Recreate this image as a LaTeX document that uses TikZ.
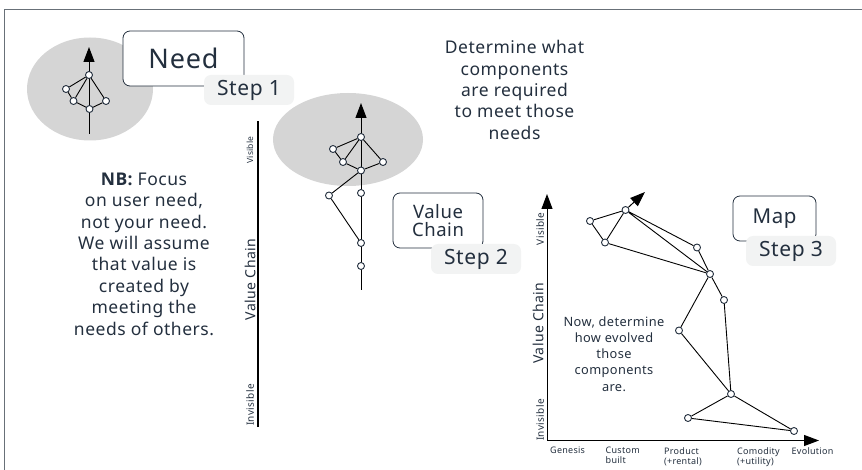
\documentclass[tikz,border=0pt]{standalone}
\usepackage{fontspec}
\setmainfont[LetterSpace=3]{Noto Sans}
\newfontfamily\nbfont[LetterSpace=2]{Open Sans}
\usetikzlibrary{arrows.meta}
\definecolor{ink}{HTML}{232F3E}
\definecolor{blob}{HTML}{D5D5D5}
\definecolor{chip}{HTML}{F2F3F3}
\definecolor{frame}{HTML}{687078}
\tikzset{
  dot/.style={circle,draw=ink,fill=white,line width=0.9pt,minimum size=7pt,inner sep=0pt},
  edge/.style={draw=black,line width=0.9pt},
  axis/.style={draw=black,line width=1pt,-{Triangle[length=15pt,width=11pt]}},
  blobby/.style={fill=blob,draw=none},
  titlebox/.style={draw=ink,fill=white,rounded corners=7pt,line width=0.8pt,text=ink,align=center,inner sep=0pt},
  stepchip/.style={fill=chip,rounded corners=7pt,text=ink,inner sep=0pt,font=\fontsize{21}{22}\selectfont},
  para/.style={text=ink,align=center,inner sep=0pt,font=\fontsize{17.5}{21.4}\selectfont},
  small/.style={text=ink,align=center,inner sep=0pt,font=\fontsize{12.8}{16.2}\selectfont},
  vlabel/.style={text=ink,rotate=90,inner sep=0pt,font=\fontsize{10}{12}\selectfont},
  vlabelbig/.style={text=ink,rotate=90,inner sep=0pt,font=\fontsize{14}{15}\selectfont},
  tick/.style={text=ink,align=left,anchor=north west,inner sep=0pt,font=\fontsize{9}{10}\selectfont},
}
\begin{document}
\begin{tikzpicture}[x=1pt,y=-1pt]
\useasboundingbox (0,0) rectangle (862,470);
% frame
\coordinate (fa) at (4.5,470); \coordinate (fb) at (4.5,9.5); \coordinate (fc) at (862,9.5);
\draw[frame,line width=1pt] (fa) -- (fb) -- (fc);

% Step 1
\fill[blobby] (90,89) ellipse [x radius=63,y radius=51.5];
\coordinate (a0) at (89,134); \coordinate (a1) at (89,47);
\draw[axis] (a0) -- (a1);
\node[dot] (n1) at (89,75) {};
\node[dot] (n2) at (66,89) {};
\node[dot] (n3) at (73.5,101) {};
\node[dot] (n4) at (89.5,109) {};
\node[dot] (n5) at (106,101) {};
\draw[edge] (n1)--(n2) (n2)--(n3) (n3)--(n1) (n3)--(n4) (n4)--(n5) (n5)--(n1);
\node[titlebox,minimum width=121pt,minimum height=55pt,font=\fontsize{27}{28}\selectfont] (need) at (183.5,58.5) {Need};
\node[stepchip,minimum width=90pt,minimum height=30pt] (s1) at (249,90) {Step 1};

% texts
\node[para] (det) at (514.5,90) {Determine what\\components\\are required\\to meet those\\needs};
\node[para] (nb) at (144,254) {{\nbfont\bfseries NB:} Focus\\on user need,\\not your need.\\We will assume\\that value is\\created by\\meeting the\\needs of others.};

% Step 2
\coordinate (v0) at (258,427); \coordinate (v1) at (258,121);
\draw[black,line width=1.5pt] (v0) -- (v1);
\node[vlabel,font=\fontsize{8.5}{10}\selectfont] (vis1) at (250,150) {Visible};
\node[vlabelbig] (vc1) at (250,279.5) {Value Chain};
\node[vlabel] (inv1) at (250,405) {Invisible};
\fill[blobby] (348,139.5) ellipse [x radius=75,y radius=46.5];
\coordinate (b0) at (361,290); \coordinate (b1) at (361,103);
\draw[axis] (b0) -- (b1);
\node[dot] (m1) at (361,137) {};
\node[dot] (m2) at (333,149) {};
\node[dot] (m3) at (343,162) {};
\node[dot] (m4) at (361,170.5) {};
\node[dot] (m5) at (383,162) {};
\node[dot] (m6) at (329,195.5) {};
\node[dot] (m7) at (361,193) {};
\node[dot] (m8) at (361,243) {};
\node[dot] (m9) at (361,266) {};
\draw[edge] (m1)--(m2) (m2)--(m3) (m3)--(m1) (m3)--(m4) (m4)--(m5) (m5)--(m1) (m4)--(m6) (m6)--(m8);
\node[titlebox,minimum width=90pt,minimum height=55pt,font=\fontsize{18.5}{18}\selectfont] (vc) at (438,220.5) {Value\\Chain};
\node[stepchip,minimum width=90pt,minimum height=30pt] (s2) at (476,259) {Step 2};

% Step 3
\coordinate (o) at (547,440.5); \coordinate (yt) at (547,194); \coordinate (xt) at (819,440.5);
\draw[axis] (o) -- (yt);
\draw[axis] (o) -- (xt);
\node[vlabel] (vis3) at (540,229) {Visible};
\node[vlabelbig] (vc3) at (538,323) {Value Chain};
\node[vlabel] (inv3) at (540,420) {Invisible};
\node[dot] (p1) at (625.5,210) {};
\node[dot] (p2) at (590,221) {};
\node[dot] (p3) at (605,242.5) {};
\node[dot] (p4) at (697,247.5) {};
\node[dot] (p5) at (710,274) {};
\node[dot] (p6) at (724,300) {};
\node[dot] (p7) at (679,330.5) {};
\node[dot] (p8) at (731,394) {};
\node[dot] (p9) at (688,418) {};
\node[dot] (p10) at (794,431) {};
\coordinate (pt) at (645,192);
\draw[draw=black,line width=1pt,-{Triangle[length=15pt,width=11pt]}] (p1) -- (pt);
\draw[edge] (p1)--(p2) (p2)--(p3) (p3)--(p1) (p1)--(p4) (p4)--(p5) (p1)--(p5) (p3)--(p5) (p5)--(p6) (p5)--(p7) (p6)--(p8) (p7)--(p8) (p8)--(p9) (p9)--(p10) (p10)--(p8);
\node[titlebox,minimum width=83pt,minimum height=45pt,font=\fontsize{20.5}{21}\selectfont] (map) at (774.5,218.5) {Map};
\node[stepchip,minimum width=90pt,minimum height=30pt] (s3) at (791,251) {Step 3};
\node[small] (now) at (614,354) {Now, determine\\how evolved\\those\\components\\are.};
\node[tick] (t1) at (550,447) {Genesis};
\node[tick] (t2) at (605.5,447) {Custom\\built};
\node[tick] (t3) at (664,447) {Product\\(+rental)};
\node[tick] (t4) at (737,447) {Comodity\\(+utility)};
\node[tick] (t5) at (791.5,447) {Evolution};
\end{tikzpicture}
\end{document}
